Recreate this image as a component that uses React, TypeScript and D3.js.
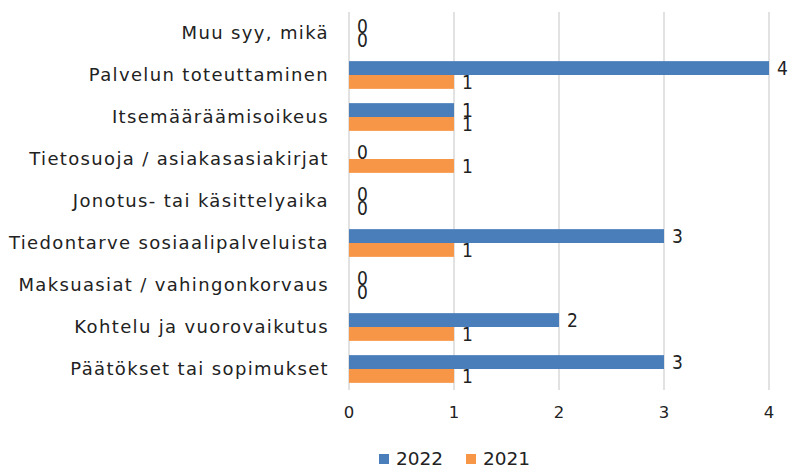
import React, { useEffect, useRef } from "react";
import * as d3 from "d3";

const categories = [
  "Muu syy, mikä",
  "Palvelun toteuttaminen",
  "Itsemääräämisoikeus",
  "Tietosuoja / asiakasasiakirjat",
  "Jonotus- tai käsittelyaika",
  "Tiedontarve sosiaalipalveluista",
  "Maksuasiat / vahingonkorvaus",
  "Kohtelu ja vuorovaikutus",
  "Päätökset tai sopimukset",
];
const values2022 = [0, 4, 1, 0, 0, 3, 0, 2, 3];
const values2021 = [0, 1, 1, 1, 0, 1, 0, 1, 1];
const seriesNames = ["2022", "2021"];
const colors = ["#4a7ebb", "#f79646"];
const ticks = [0, 1, 2, 3, 4];

export default function App() {
  const ref = useRef<SVGSVGElement | null>(null);

  useEffect(() => {
    const svg = d3.select(ref.current as any);
    svg.selectAll("*").remove();
    const width = 796;
    const height = 468;
    const margin = { top: 12, right: 27, bottom: 78, left: 349 };
    const innerW = width - margin.left - margin.right;
    const innerH = height - margin.top - margin.bottom;

    const x = d3.scaleLinear().domain([0, 4]).range([0, innerW]);
    const y = d3.scaleBand().domain(categories).range([0, innerH]).paddingInner(0.34).paddingOuter(0.17);
    const sub = d3.scaleBand().domain(seriesNames).range([0, y.bandwidth()]);

    const g = svg.append("g").attr("transform", `translate(${margin.left},${margin.top})`);

    g.append("g")
      .selectAll("line")
      .data(ticks)
      .enter()
      .append("line")
      .attr("x1", d => x(d))
      .attr("x2", d => x(d))
      .attr("y1", 0)
      .attr("y2", innerH)
      .attr("stroke", "#d9d9d9")
      .attr("stroke-width", 1.5);

    g.append("g")
      .selectAll("text")
      .data(ticks)
      .enter()
      .append("text")
      .attr("x", d => x(d))
      .attr("y", innerH + 28)
      .attr("text-anchor", "middle")
      .attr("fill", "#222")
      .style("font-family", "'DejaVu Sans', sans-serif")
      .style("font-size", "16.5px")
      .text(d => d);

    g.append("g")
      .selectAll("text")
      .data(categories)
      .enter()
      .append("text")
      .attr("x", -20)
      .attr("y", d => (y(d) || 0) + y.bandwidth() / 2 + 6)
      .attr("text-anchor", "end")
      .attr("fill", "#222")
      .style("font-family", "'DejaVu Sans', sans-serif")
      .style("font-size", "18px")
      .style("letter-spacing", "1.35px")
      .text(d => d);

    const series = [values2022, values2021];
    series.forEach((vals, si) => {
      const name = seriesNames[si];
      const rows = categories.map((c, i) => ({ c, v: vals[i] }));
      g.append("g")
        .selectAll("rect")
        .data(rows)
        .enter()
        .append("rect")
        .attr("x", 0)
        .attr("y", d => (y(d.c) || 0) + (sub(name) || 0))
        .attr("width", d => x(d.v))
        .attr("height", sub.bandwidth())
        .attr("fill", colors[si]);
      g.append("g")
        .selectAll("text")
        .data(rows)
        .enter()
        .append("text")
        .attr("x", d => x(d.v) + 8)
        .attr("y", d => (y(d.c) || 0) + (sub(name) || 0) + sub.bandwidth() / 2 + 7)
        .attr("fill", "#222")
        .style("font-family", "'Liberation Sans Narrow', 'DejaVu Sans Condensed', sans-serif")
        .style("font-size", "19px")
        .text(d => d.v);
    });

    const legend = svg.append("g").attr("transform", `translate(379,454)`);
    seriesNames.forEach((n, i) => {
      const lg = legend.append("g").attr("transform", `translate(${i * 87},0)`);
      lg.append("rect").attr("width", 10).attr("height", 10).attr("fill", colors[i]);
      lg.append("text")
        .attr("x", 17)
        .attr("y", 11)
        .attr("fill", "#222")
        .style("font-family", "'DejaVu Sans', sans-serif")
        .style("font-size", "18.5px")
        .text(n);
    });
  }, []);

  return (
    <div style={{ position: "fixed", left: 0, top: 0, width: 796, height: 468, background: "#fff" }}>
      <svg ref={ref} width={796} height={468} style={{ display: "block" }} />
    </div>
  );
}
